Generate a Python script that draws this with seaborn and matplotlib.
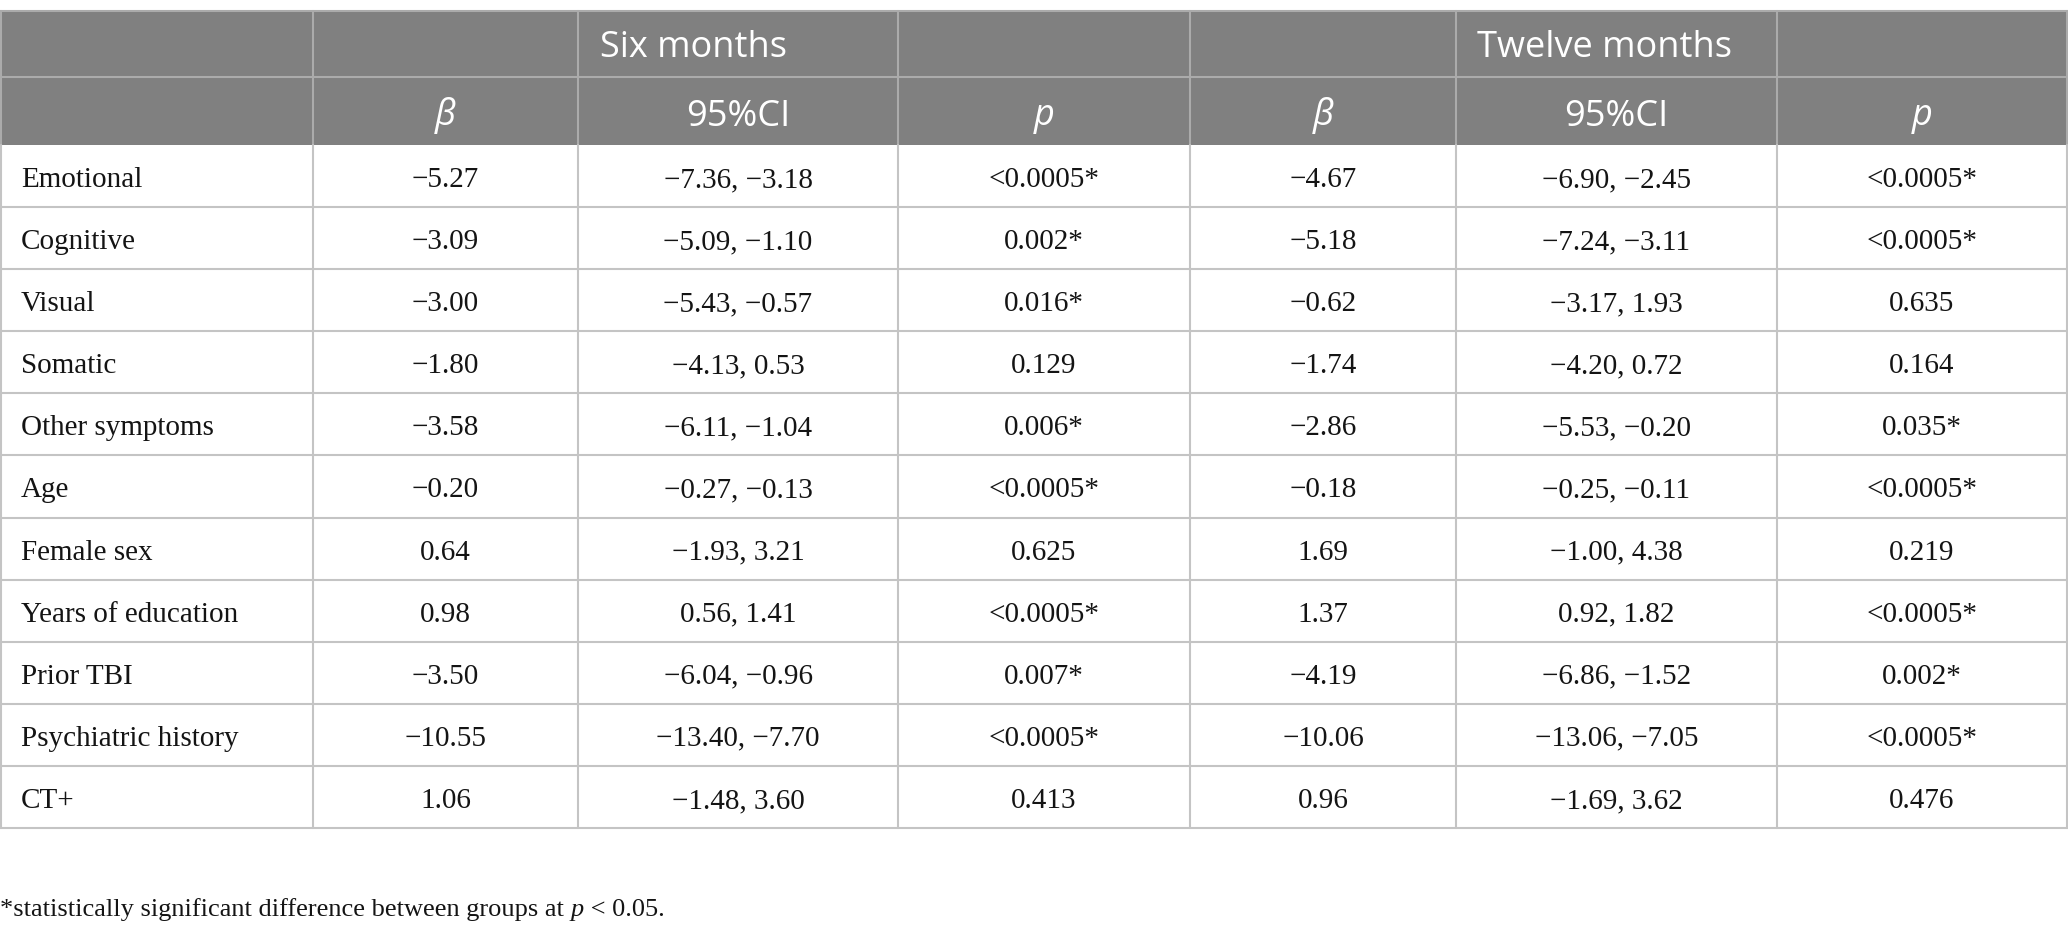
import matplotlib
matplotlib.use("Agg")
import matplotlib.pyplot as plt
import seaborn as sns

sns.set_theme(style="white")
plt.rcParams['font.family'] = ['Liberation Serif', 'DejaVu Serif']

# ---- data ----
variables = ["Emotional", "Cognitive", "Visual", "Somatic", "Other symptoms", "Age",
             "Female sex", "Years of education", "Prior TBI", "Psychiatric history", "CT+"]
beta_6 = ["−5.27", "−3.09", "−3.00", "−1.80", "−3.58", "−0.20", "0.64", "0.98", "−3.50", "−10.55", "1.06"]
ci_6 = ["−7.36, −3.18", "−5.09, −1.10", "−5.43, −0.57", "−4.13, 0.53", "−6.11, −1.04", "−0.27, −0.13",
        "−1.93, 3.21", "0.56, 1.41", "−6.04, −0.96", "−13.40, −7.70", "−1.48, 3.60"]
p_6 = ["<0.0005*", "0.002*", "0.016*", "0.129", "0.006*", "<0.0005*", "0.625", "<0.0005*", "0.007*",
       "<0.0005*", "0.413"]
beta_12 = ["−4.67", "−5.18", "−0.62", "−1.74", "−2.86", "−0.18", "1.69", "1.37", "−4.19", "−10.06", "0.96"]
ci_12 = ["−6.90, −2.45", "−7.24, −3.11", "−3.17, 1.93", "−4.20, 0.72", "−5.53, −0.20", "−0.25, −0.11",
         "−1.00, 4.38", "0.92, 1.82", "−6.86, −1.52", "−13.06, −7.05", "−1.69, 3.62"]
p_12 = ["<0.0005*", "<0.0005*", "0.635", "0.164", "0.035*", "<0.0005*", "0.219", "<0.0005*", "0.002*",
        "<0.0005*", "0.476"]
group_labels = ["Six months", "Twelve months"]
sub_labels = ["β", "95%CI", "p"]
footnote_pre = "*statistically significant difference between groups at "
footnote_p = "p"
footnote_post = " < 0.05."

# ---- layout ----
W, H = 2068, 936
fig = plt.figure(figsize=(W / 100, H / 100), dpi=100)
ax = fig.add_axes([0, 0, 1, 1])
ax.set_xlim(0, W)
ax.set_ylim(H, 0)
ax.axis("off")

col_x = [0.75, 313, 578, 898, 1190, 1456, 1777, 2067]
y_top, y_h1, y_h2 = 10.5, 76.5, 145
row_h = (828 - 145) / 11
header_bg = "#808080"
header_line = "#ababab"
grid = "#c4c4c4"
txt = "#141414"

ax.add_patch(plt.Rectangle((0, y_top), W, y_h2 - y_top, color=header_bg, lw=0, zorder=1))
ax.plot([0, W], [y_top, y_top], color=header_line, lw=1.5, zorder=2)
ax.plot([0, W], [y_h1, y_h1], color=header_line, lw=1.5, zorder=2)
for x in col_x:
    ax.plot([x, x], [y_top, y_h2], color=header_line, lw=1.5, zorder=2)

sans = "Open Sans"
hs = 26
# group labels (left aligned in their cells)
ax.text(col_x[2] + 22, 57, group_labels[0], color="white", fontsize=hs, family=sans,
        ha="left", va="baseline", zorder=3)
ax.text(col_x[5] + 21, 57, group_labels[1], color="white", fontsize=hs, family=sans,
        ha="left", va="baseline", zorder=3)
# sub labels
for g in range(2):
    for k, lab in enumerate(sub_labels):
        c = 1 + g * 3 + k
        cx = (col_x[c] + col_x[c + 1]) / 2
        style = "normal" if lab == "95%CI" else "italic"
        ax.text(cx, 125.5, lab, color="white", fontsize=hs, family=sans,
                style=style, ha="center", va="baseline", zorder=3)

# body
bs = 21
columns = [beta_6, ci_6, p_6, beta_12, ci_12, p_12]
for i, var in enumerate(variables):
    y0 = y_h2 + i * row_h
    yb = y0 + 42
    ax.text(21, yb, var, fontsize=bs, ha="left", va="baseline", color=txt, zorder=3)
    for c, col in enumerate(columns):
        cx = (col_x[c + 1] + col_x[c + 2]) / 2
        ax.text(cx, yb, col[i], fontsize=bs, ha="center", va="baseline", color=txt, zorder=3)
    ax.plot([0, W], [y0 + row_h, y0 + row_h], color=grid, lw=1.5, zorder=2)
for x in col_x:
    ax.plot([x, x], [y_h2, y_h2 + 11 * row_h], color=grid, lw=1.5, zorder=2)

# footnote
fs = 19
fy = 916
t = ax.text(0, fy, footnote_pre, fontsize=fs, ha="left", va="baseline", color=txt)
fig.canvas.draw()
r = fig.canvas.get_renderer()
bb = t.get_window_extent(renderer=r)
t2 = ax.text(bb.x1, fy, footnote_p, fontsize=fs, style="italic", ha="left", va="baseline", color=txt)
bb2 = t2.get_window_extent(renderer=r)
ax.text(bb2.x1, fy, footnote_post, fontsize=fs, ha="left", va="baseline", color=txt)

fig.savefig("out.png", dpi=100, facecolor="white")
